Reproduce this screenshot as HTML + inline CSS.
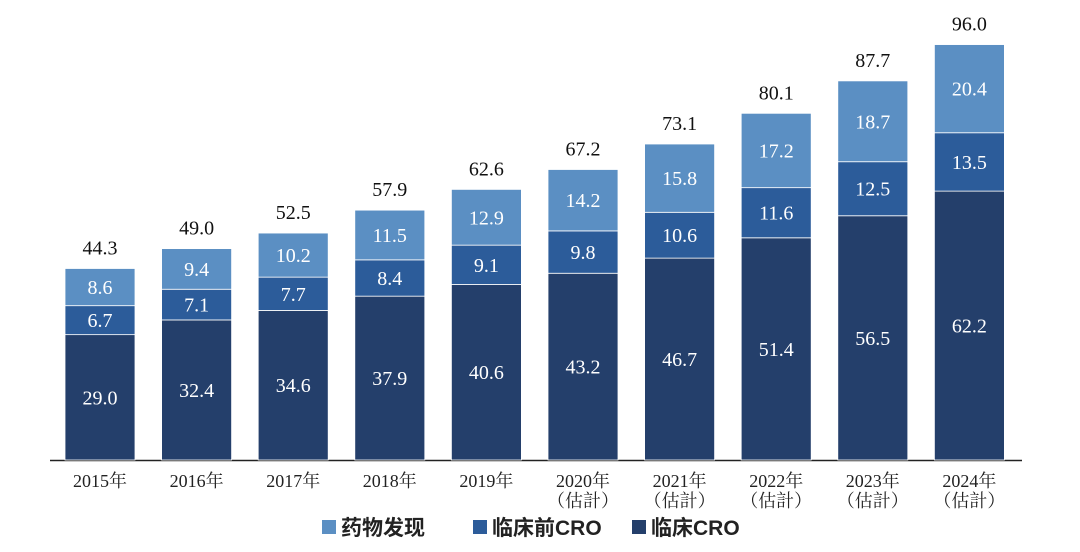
<!DOCTYPE html>
<html><head><meta charset="utf-8"><style>
body{margin:0;background:#fff;}
svg{display:block;font-family:"Liberation Serif","Noto Serif CJK SC",serif;}
</style></head><body>
<svg id="c" width="1080" height="552">
<line x1="50" y1="460.5" x2="1022" y2="460.5" stroke="#222" stroke-width="1.5"/>
<g id="bars"></g>
<g font-family="'Liberation Sans','Noto Sans CJK SC',sans-serif" font-weight="bold" font-size="21" fill="#222">
<rect x="322" y="520" width="14" height="14" fill="#5b8fc3"/>
<text x="341" y="535">药物发现</text>
<rect x="473" y="520" width="14" height="14" fill="#2c5c9a"/>
<text x="492" y="535">临床前CRO</text>
<rect x="632" y="520" width="14" height="14" fill="#243f6b"/>
<text x="651" y="535">临床CRO</text>
</g>
</svg>
<script>
const years=["2015年","2016年","2017年","2018年","2019年","2020年","2021年","2022年","2023年","2024年"];
const estimated=[false,false,false,false,false,true,true,true,true,true];
const clinical=[29.0,32.4,34.6,37.9,40.6,43.2,46.7,51.4,56.5,62.2];
const preclinical=[6.7,7.1,7.7,8.4,9.1,9.8,10.6,11.6,12.5,13.5];
const discovery=[8.6,9.4,10.2,11.5,12.9,14.2,15.8,17.2,18.7,20.4];
const totals=["44.3","49.0","52.5","57.9","62.6","67.2","73.1","80.1","87.7","96.0"];
const NS="http://www.w3.org/2000/svg";
const g=document.getElementById('bars');
const base=460, k=415/96, x0=100, step=96.6, bw=70;
const yS=v=>base-v*k, xS=i=>x0+i*step;
function mk(t,a){const e=document.createElementNS(NS,t);for(const n in a)e.setAttribute(n,a[n]);g.appendChild(e);return e;}
const series=[[clinical,"#243f6b","clinical"],[preclinical,"#2c5c9a","preclinical"],[discovery,"#5b8fc3","discovery"]];
years.forEach((y,i)=>{
  let acc=0;const cx=xS(i);
  series.forEach(([arr,col,nm])=>{
    const v=arr[i];
    const r=mk('rect',{x:cx-bw/2,y:yS(acc+v),width:bw,height:v*k,fill:col,stroke:"#fff","stroke-width":0.8});
    
    
    const t=mk('text',{x:cx,y:yS(acc+v/2)+7,"text-anchor":"middle",fill:"#fff","font-size":20});
    t.textContent=v.toFixed(1);
    
    
    acc+=v;
  });
  const tt=mk('text',{x:cx,y:yS(acc)-14,"text-anchor":"middle",fill:"#111","font-size":20});
  tt.textContent=totals[i];
  
  
  const xl=mk('text',{x:cx,y:487,"text-anchor":"middle",fill:"#222","font-size":18});
  xl.textContent=y;
  
  
  if(estimated[i]){
    const e=mk('text',{x:cx,y:507,"text-anchor":"middle",fill:"#222","font-size":18});
    e.textContent="（估計）";
    
    
  }
});
</script>
</body></html>
